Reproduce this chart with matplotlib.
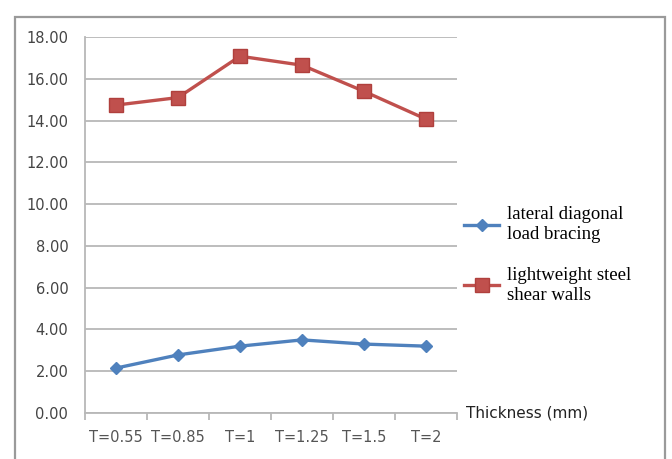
import matplotlib.pyplot as plt
from matplotlib.patches import Rectangle

# data
grosimi = ['T=0.55', 'T=0.85', 'T=1', 'T=1.25', 'T=1.5', 'T=2']
bracing = [2.15, 2.78, 3.2, 3.5, 3.3, 3.2]
pereti = [14.74, 15.1, 17.08, 16.65, 15.4, 14.07]
y_ticks = [0, 2, 4, 6, 8, 10, 12, 14, 16, 18]

fig = plt.figure(figsize=(6.72, 4.59), dpi=100)
ax = fig.add_axes([0.1265, 0.1002, 0.5535, 0.8192])

# chenarul exterior gri
fig.patches.append(Rectangle((15 / 672, -0.1), 650 / 672, 1.1 - 17 / 459,
                             transform=fig.transFigure, fill=False,
                             edgecolor='#9a9a9a', lw=1.6))

x = list(range(len(grosimi)))
ax.plot(x, bracing, color='#4F81BD', lw=2.4, marker='D', markersize=6,
        markeredgecolor='#4F81BD', label='lateral diagonal\nload bracing', zorder=3)
ax.plot(x, pereti, color='#C0504D', lw=2.4, marker='s', markersize=10,
        markeredgecolor='#B0403D', label='lightweight steel\nshear walls', zorder=3)

ax.set_xlim(-0.5, len(grosimi) - 0.5)
ax.set_ylim(0, 18)
ax.set_yticks(y_ticks)
ax.set_yticklabels([f'{v:.2f}' for v in y_ticks])
ax.set_xticks(x)
ax.set_xticklabels(grosimi)
ax.set_xticks([i - 0.5 for i in range(len(grosimi) + 1)], minor=True)

ax.grid(axis='y', color='#b8b8b8', lw=1.3)
ax.set_axisbelow(True)
for s in ['top', 'right']:
    ax.spines[s].set_visible(False)
for s in ['left', 'bottom']:
    ax.spines[s].set_color('#b8b8b8')
    ax.spines[s].set_linewidth(1.3)

ax.tick_params(axis='x', which='major', length=0, pad=12, labelsize=10.5, labelcolor='#555555')
ax.tick_params(axis='x', which='minor', length=5, color='#b8b8b8', width=1.3)
ax.tick_params(axis='y', length=0, pad=12, labelsize=10.5, labelcolor='#444444')

ax.text(1.025, 0, 'Thickness (mm)', transform=ax.transAxes, ha='left', va='center',
        fontsize=11, color='#222222')

leg = ax.legend(loc='center left', bbox_to_anchor=(1.0, 0.42), frameon=False,
                prop={'family': 'Liberation Serif', 'size': 13.5}, handlelength=1.86,
                labelspacing=1.25, handletextpad=0.43, borderaxespad=0.0, borderpad=0.4)
for t in leg.get_texts():
    t.set_linespacing(1.25)

fig.savefig('out.png', dpi=100)
